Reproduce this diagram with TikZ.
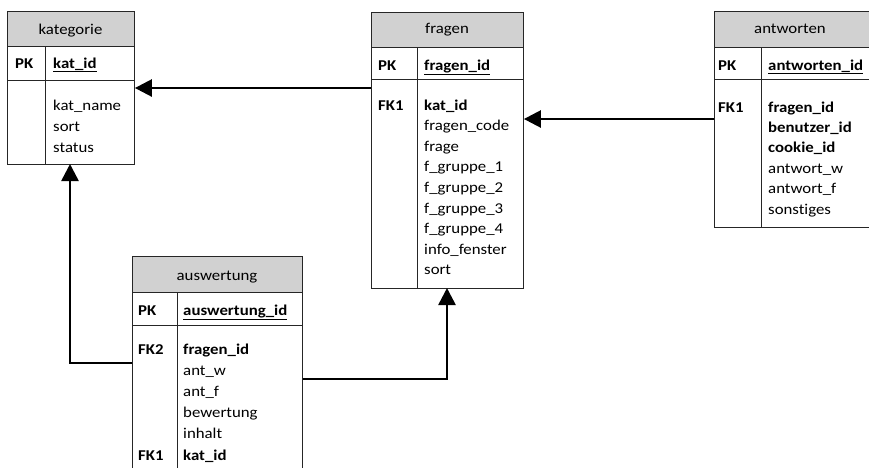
\documentclass[tikz,border=0pt]{standalone}
\usepackage{fontspec}
\setmainfont{Carlito}[FakeStretch=1.12,Ligatures={NoCommon,NoContextual}]
\usetikzlibrary{arrows.meta}
\begin{document}
\begin{tikzpicture}[x=1pt,y=-1pt,
  tbl/.style={draw=black!85,line width=0.9pt,inner sep=0pt,anchor=north west},
  hdr/.style={tbl,fill=black!18},
  ttl/.style={anchor=base,inner sep=0pt,font=\fontsize{15}{18}\selectfont},
  fld/.style={anchor=base west,inner sep=0pt,font=\fontsize{15}{18}\selectfont},
  fldb/.style={anchor=base west,inner sep=0pt,font=\fontsize{15}{18}\selectfont\bfseries},
  conn/.style={line width=2.6pt,-{Triangle[width=17pt,length=17pt]}},
  sep/.style={draw=black!85,line width=0.9pt}]
\clip (0,0) rectangle (869,467);
\fill[white] (0,0) rectangle (869,467);

% ---------- kategorie
\node[hdr,minimum width=127pt,minimum height=35pt] (kath) at (7,11) {};
\node[tbl,minimum width=127pt,minimum height=34pt] (katp) at (7,46) {};
\node[tbl,minimum width=127pt,minimum height=84pt] (katb) at (7,80) {};
\draw[sep] (45,46) -- (45,164);
\node[ttl] (katt) at (70.5,34) {kategorie};
\node[fldb] (katpk) at (15,68) {PK};
\node[fldb] (katid) at (53,68) {\underline{kat\_id}};
\node[fld] (kat1) at (53,110) {kat\_name};
\node[fld] (kat2) at (53,131) {sort};
\node[fld] (kat3) at (53,152) {status};

% ---------- fragen
\node[hdr,minimum width=152pt,minimum height=35pt] (frah) at (371,12) {};
\node[tbl,minimum width=152pt,minimum height=32pt] (frap) at (371,47) {};
\node[tbl,minimum width=152pt,minimum height=209pt] (frab) at (371,79) {};
\draw[sep] (417,47) -- (417,288);
\node[ttl] (frat) at (447,33) {fragen};
\node[fldb] (frapk) at (378,70) {PK};
\node[fldb] (fraid) at (424,70) {\underline{fragen\_id}};
\node[fldb] (frafk) at (378,110) {FK1};
\node[fldb] (fra1) at (424,110) {kat\_id};
\node[fld] (fra2) at (424,130.6) {fragen\_code};
\node[fld] (fra3) at (424,151.2) {frage};
\node[fld] (fra4) at (424,171.8) {f\_gruppe\_1};
\node[fld] (fra5) at (424,192.4) {f\_gruppe\_2};
\node[fld] (fra6) at (424,213) {f\_gruppe\_3};
\node[fld] (fra7) at (424,233.6) {f\_gruppe\_4};
\node[fld] (fra8) at (424,254.2) {info\_fenster};
\node[fld] (fra9) at (424,274.8) {sort};

% ---------- antworten
\node[hdr,minimum width=170pt,minimum height=36pt] (anth) at (714,11) {};
\node[tbl,minimum width=170pt,minimum height=32pt] (antp) at (714,47) {};
\node[tbl,minimum width=170pt,minimum height=148pt] (antb) at (714,79) {};
\draw[sep] (761,47) -- (761,227);
\node[ttl] (antt) at (790,33) {antworten};
\node[fldb] (antpk) at (718,70) {PK};
\node[fldb] (antid) at (768,70) {\underline{antworten\_id}};
\node[fldb] (antfk) at (718,112) {FK1};
\node[fldb] (ant1) at (768,112) {fragen\_id};
\node[fldb] (ant2) at (768,132.4) {benutzer\_id};
\node[fldb] (ant3) at (768,152.8) {cookie\_id};
\node[fld] (ant4) at (768,173.2) {antwort\_w};
\node[fld] (ant5) at (768,193.6) {antwort\_f};
\node[fld] (ant6) at (768,214) {sonstiges};

% ---------- auswertung
\node[hdr,minimum width=170pt,minimum height=36pt] (aush) at (132,256) {};
\node[tbl,minimum width=170pt,minimum height=33pt] (ausp) at (132,292) {};
\node[tbl,minimum width=170pt,minimum height=160pt] (ausb) at (132,325) {};
\draw[sep] (177,292) -- (177,485);
\node[ttl] (aust) at (217,280) {auswertung};
\node[fldb] (auspk) at (138,315) {PK};
\node[fldb] (ausid) at (183,315) {\underline{auswertung\_id}};
\node[fldb] (ausfk2) at (138,354) {FK2};
\node[fldb] (aus1) at (183,354) {fragen\_id};
\node[fld] (aus2) at (183,375.2) {ant\_w};
\node[fld] (aus3) at (183,396.4) {ant\_f};
\node[fld] (aus4) at (183,417.6) {bewertung};
\node[fld] (aus5) at (183,438.8) {inhalt};
\node[fldb] (ausfk1) at (138,460) {FK1};
\node[fldb] (aus6) at (183,460) {kat\_id};

% ---------- connectors
\coordinate (y88) at (0,88);
\coordinate (y119) at (0,119);
\coordinate (y363) at (0,363);
\coordinate (y379) at (0,379);
\coordinate (k3) at (70,164);
\coordinate (f4) at (447,288);
\draw[conn] (frab.west |- y88) -- (katb.east |- y88);
\draw[conn] (antb.west |- y119) -- (frab.east |- y119);
\draw[conn] (ausb.west |- y363) -| (k3);
\draw[conn] (ausb.east |- y379) -| (f4);
\end{tikzpicture}
\end{document}
